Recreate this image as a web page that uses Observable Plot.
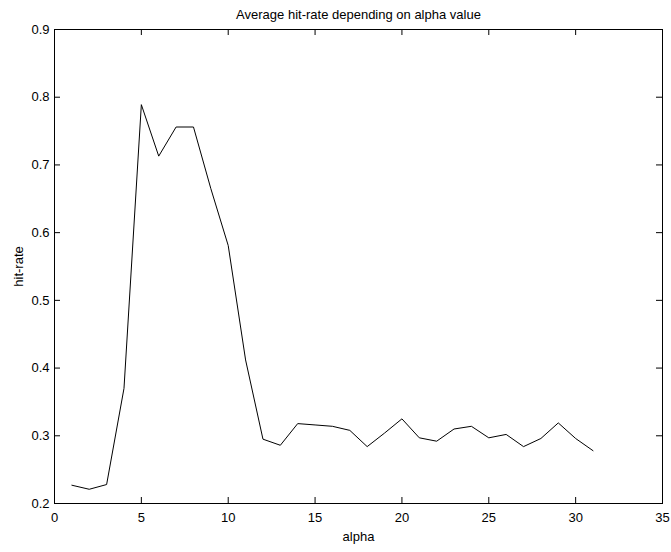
<!DOCTYPE html>
<html>
<head>
<meta charset="utf-8">
<script src="https://cdn.jsdelivr.net/npm/d3@7"></script>
<script src="https://cdn.jsdelivr.net/npm/@observablehq/plot@0.6"></script>
<style>
  html, body { margin: 0; padding: 0; background: #fff; }
  #chart svg { display: block; }
</style>
</head>
<body>
<div id="chart"></div>
<script>
const alpha = [1,2,3,4,5,6,7,8,9,10,11,12,13,14,15,16,17,18,19,20,21,22,23,24,25,26,27,28,29,30,31];
const hitRate = [0.227,0.221,0.228,0.370,0.789,0.713,0.756,0.756,0.665,0.581,0.412,0.295,0.286,0.318,0.316,0.314,0.308,0.284,0.304,0.325,0.297,0.292,0.310,0.314,0.297,0.302,0.284,0.296,0.319,0.296,0.278];
const xTicks = [0,5,10,15,20,25,30,35];
const yTicks = [0.2,0.3,0.4,0.5,0.6,0.7,0.8,0.9];
const yTickLabels = ["0.2","0.3","0.4","0.5","0.6","0.7","0.8","0.9"];
const titleText = "Average hit-rate depending on alpha value";
const xLabel = "alpha";
const yLabel = "hit-rate";

const W = 671, H = 552;
const mL = 54, mR = 9, mT = 29, mB = 49;
const plotW = W - mL - mR, plotH = H - mT - mB;
const tick = 6;
const fs = 13;

const data = alpha.map((a, i) => ({alpha: a, hit: hitRate[i]}));

const chart = Plot.plot({
  width: W,
  height: H,
  marginLeft: mL,
  marginRight: mR,
  marginTop: mT,
  marginBottom: mB,
  style: {fontFamily: "'Liberation Sans', Arial, sans-serif", fontSize: fs + "px", color: "#000", background: "#fff"},
  x: {domain: [0, 35]},
  y: {domain: [0.2, 0.9]},
  marks: [
    Plot.frame({stroke: "#000", strokeWidth: 1}),
    // inward ticks: bottom, top, left, right
    Plot.tickX(xTicks, {x: d => d, stroke: "#000", insetTop: plotH - tick}),
    Plot.tickX(xTicks, {x: d => d, stroke: "#000", insetBottom: plotH - tick}),
    Plot.tickY(yTicks, {y: d => d, stroke: "#000", insetRight: plotW - tick}),
    Plot.tickY(yTicks, {y: d => d, stroke: "#000", insetLeft: plotW - tick}),
    Plot.axisX(xTicks, {anchor: "bottom", tickSize: 0, tickPadding: 9, fontSize: fs, label: null}),
    Plot.axisY(yTicks, {anchor: "left", tickSize: 0, tickPadding: 5, fontSize: fs, label: null, tickFormat: (d, i) => yTickLabels[i]}),
    Plot.line(data, {x: "alpha", y: "hit", stroke: "#000", strokeWidth: 1}),
    Plot.text([titleText], {frameAnchor: "top", lineAnchor: "bottom", dy: -11, fontSize: fs, text: d => d, fill: "#000"}),
    Plot.text([xLabel], {frameAnchor: "bottom", lineAnchor: "top", dy: 28, fontSize: fs, text: d => d, fill: "#000"}),
    Plot.text([yLabel], {frameAnchor: "left", textAnchor: "middle", lineAnchor: "middle", dx: -36, rotate: -90, fontSize: fs, text: d => d, fill: "#000"})
  ]
});
document.getElementById("chart").appendChild(chart);
</script>
</body>
</html>
